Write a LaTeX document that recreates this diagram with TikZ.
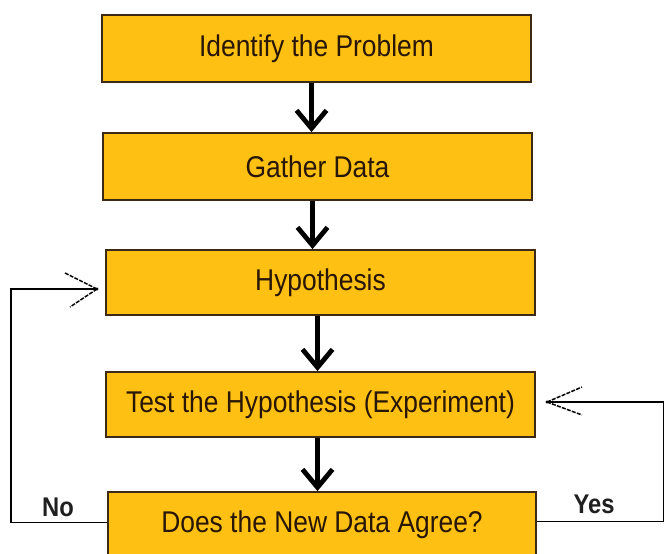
\documentclass[tikz,border=0pt]{standalone}
\usepackage{fontspec}
\setmainfont{Liberation Sans}[FakeStretch=0.88]
\usetikzlibrary{arrows.meta}
\definecolor{boxfill}{RGB}{254,192,18}
\definecolor{boxline}{RGB}{60,42,22}
\definecolor{boxtext}{RGB}{40,22,6}
\begin{document}
\begin{tikzpicture}[x=1pt,y=-1pt,
  stepbox/.style={draw=boxline, line width=1.8pt, fill=boxfill, minimum width=429pt, minimum height=66pt, inner sep=0pt, text=boxtext, font=\fontsize{30}{36}\selectfont, anchor=center},
  flow/.style={line width=4.8pt, draw=black, -{Straight Barb[length=18pt,width=30pt]}},
  loopline/.style={line width=1.4pt, draw=black},
  wing/.style={line width=1.5pt, draw=black, dash pattern=on 4pt off 1.3pt},
  lab/.style={font=\bfseries\fontsize{27}{32}\selectfont, text=black!88}]
\clip (0,0) rectangle (664,554);
\fill[white] (0,0) rectangle (664,554);
\node[stepbox, minimum height=67pt] (b1) at (316.5,48.5) {Identify the Problem};
\node[stepbox, minimum height=67pt] (b2) at (317.5,166.5) {Gather Data};
\node[stepbox, minimum height=65pt] (b3) at (320.5,282.5) {Hypothesis};
\node[stepbox, minimum height=65pt] (b4) at (320.5,404.5) {Test the Hypothesis (Experiment)};
\node[stepbox, minimum height=65pt, minimum width=428pt] (b5) at (322,524.5) {Does the New Data Agree?};
\draw[flow] ([xshift=-5pt]b1.south) -- ([xshift=-5pt]b1.south |- b2.north);
\draw[flow] ([xshift=-5pt]b2.south) -- ([xshift=-5pt]b2.south |- b3.north);
\draw[flow] ([xshift=-3pt]b3.south) -- ([xshift=-3pt]b3.south |- b4.north);
\draw[flow] ([xshift=-3pt]b4.south) -- ([xshift=-3pt]b4.south |- b5.north);
\coordinate (ltip) at (97,289);
\coordinate (rtip) at (547,402);
\draw[loopline] ([yshift=2pt]b5.west) -- ++(-96,0) |- (ltip);
\draw[loopline] ([yshift=3pt]b5.east) -- ++(127,0) |- (rtip);
\draw[wing] (ltip) -- ++(-32,-16);
\draw[wing] (ltip) -- ++(-27,18);
\draw[wing] (rtip) -- ++(35,-15);
\draw[wing] (rtip) -- ++(35,13);
\fill (ltip) circle (1.6pt);
\fill (rtip) circle (1.6pt);
\node[lab] (no) at (58,507) {No};
\node[lab] (yes) at (594,504) {Yes};
\end{tikzpicture}
\end{document}
